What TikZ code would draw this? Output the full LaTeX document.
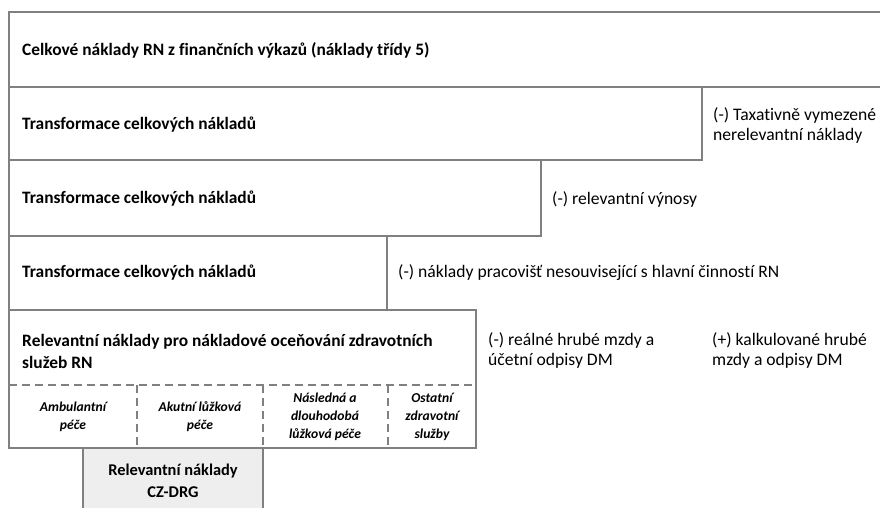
\documentclass[tikz,border=0pt]{standalone}
\usepackage{fontspec}
\setmainfont{Carlito}[Ligatures={NoCommon}]
\definecolor{edge}{HTML}{808080}
\definecolor{drgfill}{HTML}{EEEEEE}
\tikzset{
  boxline/.style={draw=edge, line width=1.6pt},
  dashline/.style={draw=edge, line width=1.4pt, dash pattern=on 8pt off 5pt},
  headtxt/.style={anchor=west, inner sep=0pt, font=\fontsize{17.4}{22}\selectfont\bfseries, align=left},
  sidetxt/.style={anchor=west, inner sep=0pt, font=\fontsize{17.6}{20}\selectfont, align=left},
  celltxt/.style={inner sep=0pt, font=\fontsize{13.6}{18}\selectfont\bfseries\itshape, align=center},
  drgtxt/.style={inner sep=0pt, font=\fontsize{16.4}{22}\selectfont\bfseries, align=center}
}
\begin{document}
\begin{tikzpicture}[x=1pt,y=-1pt]
\useasboundingbox (0,0) rectangle (880,508);
\fill[white] (0,0) rectangle (880,508);
% boxes
\draw[boxline] (9,12) rectangle (884,87);
\draw[boxline] (9,87) rectangle (702,160);
\draw[boxline] (9,160) rectangle (541,236);
\draw[boxline] (9,236) rectangle (387,310);
\draw[boxline] (9,310) rectangle (476,448);
\draw[dashline] (9,385) -- (476,385);
\draw[dashline] (137,385) -- (137,448);
\draw[dashline] (263,385) -- (263,448);
\draw[dashline] (388,385) -- (388,448);
\fill[drgfill] (83,448) rectangle (263,512);
\draw[boxline] (83,512) -- (83,448) -- (263,448) -- (263,512);
% texts
\node[headtxt] (t1) at (22,50) {Celkové náklady RN z finančních výkazů (náklady třídy 5)};
\node[headtxt] (t2) at (22,125) {Transformace celkových nákladů};
\node[headtxt] (t3) at (22,199) {Transformace celkových nákladů};
\node[headtxt] (t4) at (22,273) {Transformace celkových nákladů};
\node[headtxt] (t5) at (22,351) {Relevantní náklady pro nákladové oceňování zdravotních\\služeb RN};
\node[sidetxt] (s1) at (713,125) {(-) Taxativně vymezené\\nerelevantní náklady};
\node[sidetxt] (s2) at (552,199) {(-) relevantní výnosy};
\node[sidetxt] (s3) at (398,273) {(-) náklady pracovišť nesouvisející s hlavní činností RN};
\node[sidetxt] (s4) at (488,350) {(-) reálné hrubé mzdy a\\účetní odpisy DM};
\node[sidetxt] (s5) at (712,350) {(+) kalkulované hrubé\\mzdy a odpisy DM};
\node[celltxt] (c1) at (73,417) {Ambulantní\\péče};
\node[celltxt] (c2) at (200,417) {Akutní lůžková\\péče};
\node[celltxt] (c3) at (325,417) {Následná a\\dlouhodobá\\lůžková péče};
\node[celltxt] (c4) at (432,417) {Ostatní\\zdravotní\\služby};
\node[drgtxt] (d) at (173,481) {Relevantní náklady\\CZ-DRG};
\end{tikzpicture}
\end{document}
